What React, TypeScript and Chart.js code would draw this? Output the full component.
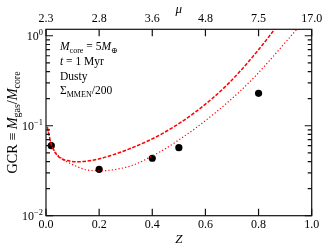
import React, { useEffect, useRef } from "react";
import { Chart, registerables } from "chart.js";

Chart.register(...registerables);

// ---- data ----
const xTickValues = [0, 0.2, 0.4, 0.6, 0.8, 1.0];
const xTickLabels = ["0.0", "0.2", "0.4", "0.6", "0.8", "1.0"];
const muTickLabels = ["2.3", "2.8", "3.6", "4.8", "7.5", "17.0"];

const zDots = [0.02, 0.2, 0.4, 0.5, 0.8];
const gcrDots = [0.06, 0.0328, 0.0435, 0.057, 0.229];

const zDashed = [0.005, 0.01, 0.02, 0.035, 0.055, 0.08, 0.118, 0.181, 0.244, 0.306, 0.379, 0.441, 0.504, 0.567, 0.63, 0.692, 0.75, 0.8, 0.837, 0.87];
const gcrDashed = [0.097, 0.082, 0.062, 0.05, 0.0435, 0.041, 0.0398, 0.0416, 0.0467, 0.0542, 0.0668, 0.0828, 0.1074, 0.1455, 0.206, 0.305, 0.468, 0.7, 0.96, 1.29];

const zDotted = [0.005, 0.01, 0.02, 0.03, 0.045, 0.068, 0.118, 0.155, 0.206, 0.268, 0.331, 0.379, 0.441, 0.504, 0.567, 0.63, 0.692, 0.735, 0.78, 0.843, 0.906, 0.937, 0.96];
const gcrDotted = [0.097, 0.082, 0.063, 0.0537, 0.047, 0.0416, 0.035, 0.0322, 0.0316, 0.0329, 0.0368, 0.0428, 0.0537, 0.0708, 0.0959, 0.134, 0.191, 0.249, 0.337, 0.537, 0.879, 1.12, 1.34];

const yMin = 0.01;
const yMax = 1.18;

const FONT = "'Liberation Serif', 'DejaVu Serif', serif";

type Part = { t: string; it?: boolean; sub?: boolean; sup?: boolean };

function richWidth(ctx: CanvasRenderingContext2D, parts: Part[], size: number) {
  let w = 0;
  for (const p of parts) {
    const s = p.sub || p.sup ? size * 0.7 : size;
    ctx.font = `${p.it ? "italic " : ""}${s}px ${FONT}`;
    w += ctx.measureText(p.t).width;
  }
  return w;
}

function drawRich(ctx: CanvasRenderingContext2D, x: number, y: number, parts: Part[], size: number) {
  let cx = x;
  ctx.textBaseline = "alphabetic";
  ctx.textAlign = "left";
  for (const p of parts) {
    const s = p.sub || p.sup ? size * 0.7 : size;
    ctx.font = `${p.it ? "italic " : ""}${s}px ${FONT}`;
    const dy = p.sub ? size * 0.22 : p.sup ? -size * 0.42 : 0;
    ctx.fillText(p.t, cx, y + dy);
    cx += ctx.measureText(p.t).width;
  }
}

const framePlugin = {
  id: "framePlugin",
  afterDraw(chart: any) {
    const { ctx, chartArea } = chart;
    const { left, right, top, bottom } = chartArea;
    const xs = chart.scales.x;
    const ys = chart.scales.y;
    ctx.save();
    ctx.strokeStyle = "#111";
    ctx.fillStyle = "#000";
    ctx.lineWidth = 1.2;
    ctx.strokeRect(left, top, right - left, bottom - top);

    // x ticks (inward, bottom and top)
    ctx.beginPath();
    for (const v of xTickValues) {
      const px = xs.getPixelForValue(v);
      ctx.moveTo(px, bottom);
      ctx.lineTo(px, bottom - 7);
      ctx.moveTo(px, top);
      ctx.lineTo(px, top + 7);
    }
    // y ticks (log)
    for (let e = -2; e <= 0; e++) {
      for (let m = 1; m <= 9; m++) {
        const v = m * Math.pow(10, e);
        if (v < yMin - 1e-9 || v > yMax) continue;
        const py = ys.getPixelForValue(v);
        const len = m === 1 ? 7 : 4;
        ctx.moveTo(left, py);
        ctx.lineTo(left + len, py);
        ctx.moveTo(right, py);
        ctx.lineTo(right - len, py);
      }
    }
    ctx.stroke();

    // y tick labels 10^e
    for (let e = -2; e <= 0; e++) {
      const py = ys.getPixelForValue(Math.pow(10, e));
      const parts: Part[] = [{ t: "10" }, { t: e === 0 ? "0" : "\u2212" + String(-e), sup: true }];
      const w = richWidth(ctx, parts, 12);
      drawRich(ctx, left - 3 - w, py + 4, parts, 12);
    }

    // annotation
    const ax = left + 14;
    const as = 11.5;
    drawRich(ctx, ax, 50, [{ t: "M", it: true }, { t: "core", sub: true }, { t: " = 5" }, { t: "M", it: true }, { t: "\u2295", sub: true }], as);
    drawRich(ctx, ax, 65, [{ t: "t", it: true }, { t: " = 1 Myr" }], as);
    drawRich(ctx, ax, 79.5, [{ t: "Dusty" }], as);
    drawRich(ctx, ax, 94, [{ t: "\u03A3" }, { t: "MMEN", sub: true }, { t: "/200" }], as);

    // y title
    const tparts: Part[] = [
      { t: "GCR \u2261 " },
      { t: "M", it: true },
      { t: "gas", sub: true },
      { t: "/" },
      { t: "M", it: true },
      { t: "core", sub: true },
    ];
    const ts = 14.2;
    const tw = richWidth(ctx, tparts, ts);
    ctx.translate(16.5, (top + bottom) / 2);
    ctx.rotate(-Math.PI / 2);
    drawRich(ctx, -tw / 2, 0, tparts, ts);
    ctx.restore();
  },
};

export default function App() {
  const ref = useRef<HTMLCanvasElement | null>(null);
  useEffect(() => {
    document.body.style.margin = "0";
    const canvas = ref.current;
    if (!canvas) return;
    const chart = new Chart(canvas, {
      type: "scatter",
      data: {
        datasets: [
          {
            label: "dashed",
            data: zDashed.map((z, i) => ({ x: z, y: gcrDashed[i] })),
            showLine: true,
            borderColor: "rgb(255,0,0)",
            borderWidth: 1.5,
            borderDash: [3.6, 1.6],
            pointRadius: 0,
            cubicInterpolationMode: "monotone",
            fill: false,
          },
          {
            label: "dotted",
            data: zDotted.map((z, i) => ({ x: z, y: gcrDotted[i] })),
            showLine: true,
            borderColor: "rgb(255,0,0)",
            borderWidth: 1.2,
            borderDash: [1.2, 2.2],
            pointRadius: 0,
            cubicInterpolationMode: "monotone",
            fill: false,
          },
          {
            label: "points",
            data: zDots.map((z, i) => ({ x: z, y: gcrDots[i] })),
            showLine: false,
            pointRadius: 3.6,
            pointBackgroundColor: "#000",
            pointBorderColor: "#000",
            pointBorderWidth: 0,
          },
        ],
      },
      options: {
        animation: false,
        responsive: true,
        maintainAspectRatio: false,
        layout: { padding: { left: 0, right: 20.3, top: 0, bottom: 0 } },
        plugins: { legend: { display: false }, tooltip: { enabled: false } },
        scales: {
          x: {
            type: "linear",
            position: "bottom",
            min: 0,
            max: 1,
            grid: { display: false, drawTicks: false },
            border: { display: false },
            afterBuildTicks: (s: any) => {
              s.ticks = xTickValues.map((v) => ({ value: v }));
            },
            ticks: {
              padding: 2,
              color: "#000",
              font: { family: FONT, size: 12 },
              maxRotation: 0,
              callback: (_v: any, i: number) => xTickLabels[i],
            },
            title: {
              display: true,
              text: "Z",
              color: "#000",
              font: { family: FONT, size: 13, style: "italic" },
              padding: { top: 0, bottom: 2 },
            },
            afterFit: (s: any) => {
              s.height = 33.3;
            },
          },
          x2: {
            type: "linear",
            position: "top",
            min: 0,
            max: 1,
            grid: { display: false, drawTicks: false },
            border: { display: false },
            afterBuildTicks: (s: any) => {
              s.ticks = xTickValues.map((v) => ({ value: v }));
            },
            ticks: {
              padding: 3,
              color: "#000",
              font: { family: FONT, size: 12 },
              maxRotation: 0,
              callback: (_v: any, i: number) => muTickLabels[i],
            },
            title: {
              display: true,
              text: "\u03BC",
              color: "#000",
              font: { family: FONT, size: 13, style: "italic" },
              padding: { top: 1.5, bottom: 0 },
            },
            afterFit: (s: any) => {
              s.height = 29.3;
            },
          },
          y: {
            type: "logarithmic",
            min: yMin,
            max: yMax,
            grid: { display: false, drawTicks: false },
            border: { display: false },
            ticks: { display: false },
            afterFit: (s: any) => {
              s.width = 46;
            },
          },
        },
      },
      plugins: [framePlugin],
    } as any);
    return () => chart.destroy();
  }, []);
  return (
    <div style={{ width: 332, height: 249, position: "relative" }}>
      <canvas ref={ref} />
    </div>
  );
}
